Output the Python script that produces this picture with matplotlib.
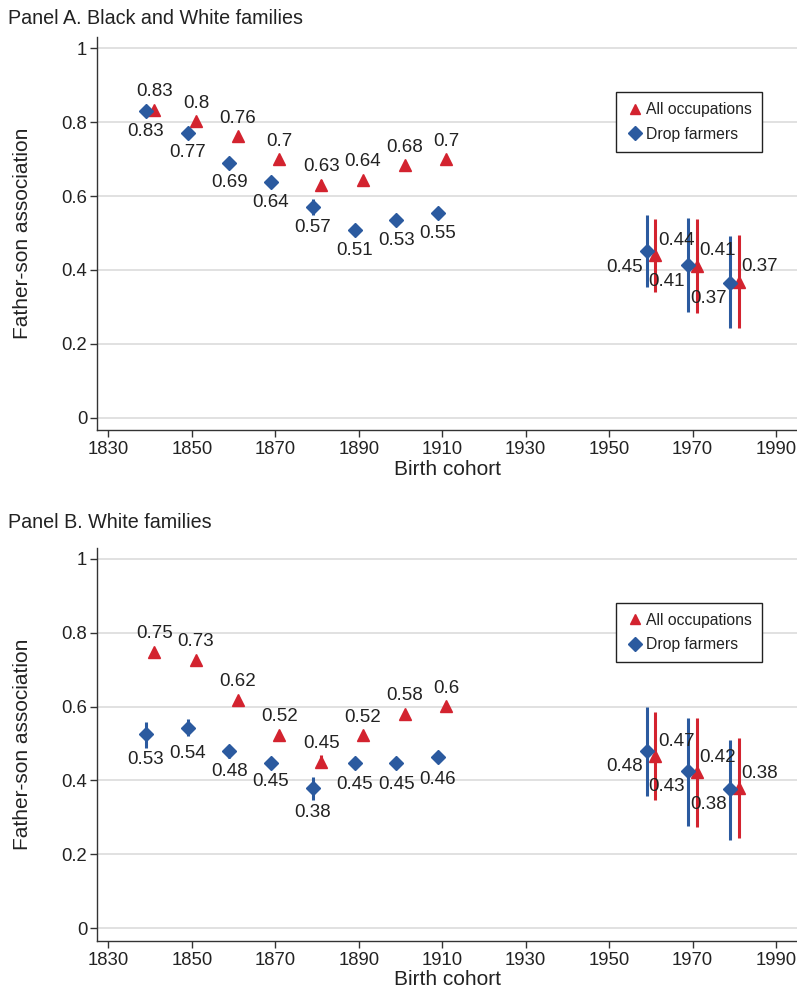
import matplotlib
matplotlib.use("Agg")
import matplotlib.pyplot as plt

plt.rcParams['font.family'] = ['Liberation Sans', 'DejaVu Sans']

RED = '#d3232f'
BLUE = '#2b5a9f'
TXT = '#222222'

# birth cohorts (red = all occupations, blue = drop farmers, shifted by 1 yr)
red_x = [1841, 1851, 1861, 1871, 1881, 1891, 1901, 1911, 1961, 1971, 1981]
blue_x = [1839, 1849, 1859, 1869, 1879, 1889, 1899, 1909, 1959, 1969, 1979]

# Panel A: Black and White families
a_red = [0.834, 0.803, 0.762, 0.700, 0.630, 0.644, 0.684, 0.700, 0.440, 0.412, 0.368]
a_red_lo = [0.826, 0.795, 0.754, 0.692, 0.616, 0.636, 0.676, 0.692, 0.341, 0.284, 0.243]
a_red_hi = [0.842, 0.811, 0.770, 0.708, 0.643, 0.652, 0.692, 0.708, 0.538, 0.538, 0.495]
a_blue = [0.830, 0.771, 0.690, 0.638, 0.570, 0.508, 0.534, 0.553, 0.451, 0.413, 0.366]
a_blue_lo = [0.822, 0.763, 0.682, 0.630, 0.549, 0.500, 0.526, 0.545, 0.354, 0.287, 0.243]
a_blue_hi = [0.838, 0.779, 0.698, 0.646, 0.592, 0.516, 0.542, 0.561, 0.549, 0.540, 0.492]

# Panel B: White families
b_red = [0.748, 0.727, 0.618, 0.524, 0.450, 0.523, 0.580, 0.601, 0.466, 0.422, 0.379]
b_red_lo = [0.738, 0.719, 0.610, 0.516, 0.435, 0.515, 0.572, 0.593, 0.346, 0.273, 0.243]
b_red_hi = [0.758, 0.735, 0.626, 0.532, 0.468, 0.531, 0.588, 0.609, 0.584, 0.568, 0.514]
b_blue = [0.527, 0.543, 0.480, 0.448, 0.380, 0.448, 0.448, 0.463, 0.480, 0.426, 0.377]
b_blue_lo = [0.489, 0.519, 0.460, 0.440, 0.346, 0.440, 0.440, 0.455, 0.359, 0.278, 0.240]
b_blue_hi = [0.557, 0.565, 0.490, 0.456, 0.410, 0.456, 0.456, 0.471, 0.600, 0.570, 0.510]

yticks = [0, 0.2, 0.4, 0.6, 0.8, 1]
yticklabels = ['0', '0.2', '0.4', '0.6', '0.8', '1']
xticks = [1830, 1850, 1870, 1890, 1910, 1930, 1950, 1970, 1990]

# label offsets in pixels (how far below the blue labels sit)
a_blue_drop = [20, 20, 20, 20, 20, 20, 20, 20]
b_blue_drop = [26, 26, 21, 19, 25, 22, 22, 22]


def fmt(v):
    s = f"{v:.2f}".rstrip('0')
    return s


def panel(ax, red, rlo, rhi, blue, blo, bhi, drops):
    ax.set_xlim(1827.3, 1995.0)
    ax.set_ylim(-0.0333, 1.0306)
    ax.set_yticks(yticks)
    ax.set_yticklabels(yticklabels)
    ax.set_xticks(xticks)
    ax.yaxis.grid(True, color='#dcdcdc', lw=1.2)
    ax.set_axisbelow(True)
    for s in ['top', 'right']:
        ax.spines[s].set_visible(False)
    for s in ['left', 'bottom']:
        ax.spines[s].set_color('#333333')
        ax.spines[s].set_linewidth(1.0)
    ax.tick_params(axis='both', direction='out', length=5, width=1, color='#333333',
                   labelsize=13.3, labelcolor=TXT)
    ax.tick_params(axis='x', pad=3)
    ax.tick_params(axis='y', pad=2)

    ax.vlines(blue_x, blo, bhi, color=BLUE, lw=2.2, zorder=2)
    ax.vlines(red_x, rlo, rhi, color=RED, lw=2.2, zorder=2)
    ax.plot(red_x, red, ls='none', marker='^', ms=8, color=RED, mec=RED,
            label='All occupations', zorder=3)
    ax.plot(blue_x, blue, ls='none', marker='D', ms=7.5, color=BLUE, mec=BLUE,
            label='Drop farmers', zorder=3)

    for i in range(len(red_x)):
        if red_x[i] < 1950:
            off = (0, 18 * 0.72)
        else:
            off = (21 * 0.72, 15 * 0.72)
        ax.annotate(fmt(red[i]), (red_x[i], red[i]), xytext=off, textcoords='offset points',
                    ha='center', va='center', fontsize=13.5, color=TXT)
    for i in range(len(blue_x)):
        if blue_x[i] < 1950:
            off = (0, -drops[i] * 0.72)
        else:
            off = (-22 * 0.72, -16 * 0.72)
        ax.annotate(fmt(blue[i]), (blue_x[i], blue[i]), xytext=off, textcoords='offset points',
                    ha='center', va='center', fontsize=13.5, color=TXT)

    ax.set_xlabel('Birth cohort', fontsize=15, color=TXT, labelpad=1)
    ax.set_ylabel('Father-son association', fontsize=15, color=TXT)
    ax.yaxis.set_label_coords(-0.093, 0.5)
    leg = ax.legend(loc='upper left', bbox_to_anchor=(0.741, 0.860), borderaxespad=0,
                    fancybox=False, framealpha=1, edgecolor='#222222', fontsize=11.3,
                    handletextpad=0.05, handlelength=1.2, borderpad=0.65, labelspacing=0.6,
                    markerscale=0.9)
    leg.get_frame().set_linewidth(1.0)
    for t in leg.get_texts():
        t.set_color(TXT)


fig = plt.figure(figsize=(7.97, 9.96), dpi=100)
axA = fig.add_axes([97 / 797, (996 - 430) / 996, 700 / 797, 393 / 996])
axB = fig.add_axes([97 / 797, (996 - 940.5) / 996, 700 / 797, 393 / 996])

panel(axA, a_red, a_red_lo, a_red_hi, a_blue, a_blue_lo, a_blue_hi, a_blue_drop)
panel(axB, b_red, b_red_lo, b_red_hi, b_blue, b_blue_lo, b_blue_hi, b_blue_drop)

fig.text(8 / 797, 1 - 18 / 996, 'Panel A. Black and White families', fontsize=14.2,
         va='center', ha='left', color=TXT)
fig.text(8 / 797, 1 - 523 / 996, 'Panel B. White families', fontsize=14.2,
         va='center', ha='left', color=TXT)

fig.savefig('out.png', dpi=100)
